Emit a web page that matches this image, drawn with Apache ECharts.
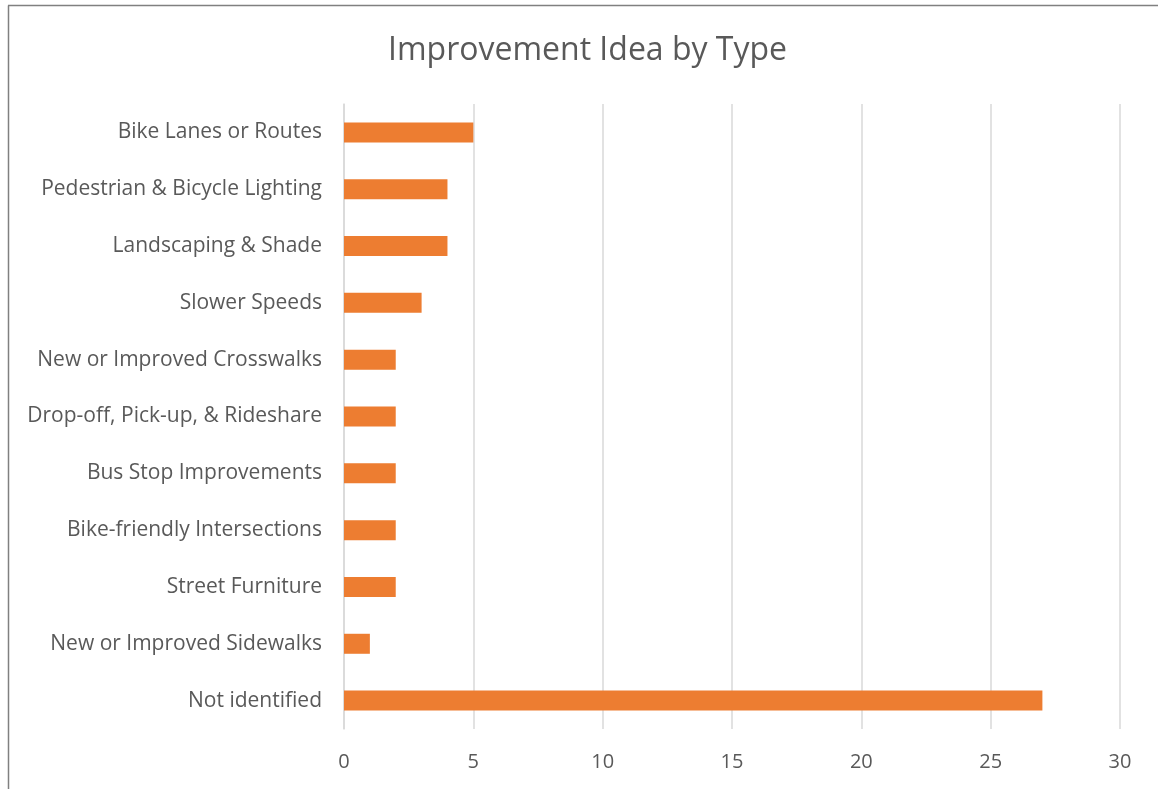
<!DOCTYPE html>
<html>
<head>
<meta charset="utf-8">
<script src="https://cdn.jsdelivr.net/npm/echarts@6/dist/echarts.min.js"></script>
<style>
html,body{margin:0;padding:0;background:#fff;overflow:hidden;}
#chart{width:1158px;height:789px;}
</style>
</head>
<body>
<div id="chart"></div>
<script>
const categories = [
  "Bike Lanes or Routes",
  "Pedestrian & Bicycle Lighting",
  "Landscaping & Shade",
  "Slower Speeds",
  "New or Improved Crosswalks",
  "Drop-off, Pick-up, & Rideshare",
  "Bus Stop Improvements",
  "Bike-friendly Intersections",
  "Street Furniture",
  "New or Improved Sidewalks",
  "Not identified"
];
const values = [5, 4, 4, 3, 2, 2, 2, 2, 2, 1, 27];
const titleText = "Improvement Idea by Type";

const chart = echarts.init(document.getElementById('chart'));
const font = '"Open Sans", Lato, sans-serif';
chart.setOption({
  animation: false,
  backgroundColor: '#fff',
  title: {
    text: titleText,
    left: 383,
    top: 30,
    textStyle: {fontFamily: font, fontSize: 32, fontWeight: 'normal', color: '#595959'}
  },
  graphic: [
    {type: 'line', shape: {x1: 8.5, y1: 5.5, x2: 8.5, y2: 800}, style: {stroke: '#808080', lineWidth: 1.5}},
    {type: 'line', shape: {x1: 8, y1: 5.5, x2: 1200, y2: 5.5}, style: {stroke: '#808080', lineWidth: 1.5}}
  ],
  grid: {left: 344, right: 38, top: 104, bottom: 60, containLabel: false},
  xAxis: {
    type: 'value',
    min: 0, max: 30, interval: 5,
    axisLine: {show: false},
    axisTick: {show: false},
    splitLine: {show: true, lineStyle: {color: '#d9d9d9', width: 1.5}},
    axisLabel: {fontFamily: font, fontSize: 20, color: '#595959', margin: 23}
  },
  yAxis: {
    type: 'category',
    data: categories,
    inverse: true,
    axisLine: {show: true, lineStyle: {color: '#d9d9d9', width: 1.5}},
    axisTick: {show: false},
    axisLabel: {fontFamily: font, fontSize: 21, color: '#595959', margin: 22, padding: [3, 0, 0, 0]}
  },
  series: [{
    type: 'bar',
    data: values,
    barWidth: 20,
    itemStyle: {color: '#ED7D31'}
  }]
});
</script>
</body>
</html>
